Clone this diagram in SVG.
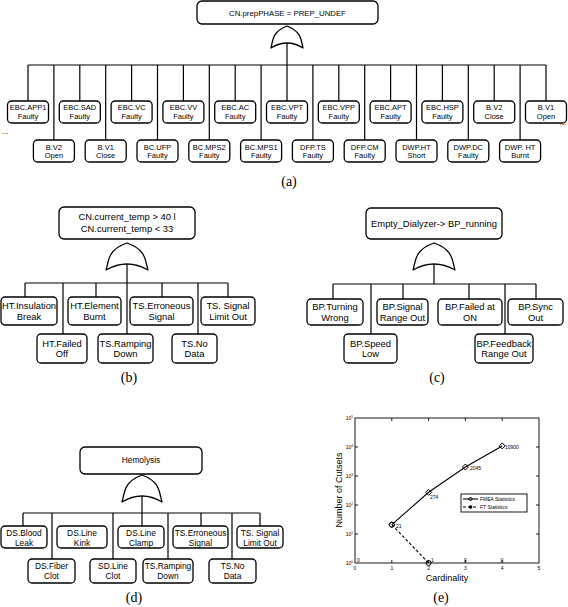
<svg xmlns="http://www.w3.org/2000/svg" width="568" height="607" viewBox="0 0 568 607">
<defs>
<style>
.n{fill:#fff;stroke:#000;stroke-width:1.3}
.g{fill:#fff;stroke:#000;stroke-width:1.3;stroke-linejoin:round}
.c{fill:none;stroke:#000;stroke-width:1.2}
.t{font-family:"Liberation Sans",Arial,sans-serif;text-anchor:middle;fill:#000}
.a{font-size:7.5px}
.b{font-size:9.4px}
.d{font-size:8.4px}
.cap{font-family:"Liberation Serif","Times New Roman",serif;font-size:14px;text-anchor:middle;fill:#000}
.tl{font-family:"Liberation Sans",Arial,sans-serif;font-size:5px;fill:#000}
.ax{fill:none;stroke:#000;stroke-width:0.9}
</style>
</defs>
<rect width="568" height="607" fill="#fff"/>

<!-- ===== (a) ===== -->
<g id="connectors-a">
<path class="c" d="M287,43 V65 M28,65 H546
M28,65 V101 M53.9,65 V140 M79.8,65 V101 M105.7,65 V140 M131.6,65 V101 M157.5,65 V140 M183.4,65 V101 M209.3,65 V140 M235.2,65 V101 M261.1,65 V140 M287,65 V101 M312.9,65 V140 M338.8,65 V101 M364.7,65 V140 M390.6,65 V101 M416.5,65 V140 M442.4,65 V101 M468.3,65 V140 M494.2,65 V101 M520.1,65 V140 M546,65 V101"/>
</g>
<g id="a-top"><rect class="n" x="197" y="1" width="181" height="23" rx="5"/><text class="t" x="287.5" y="15.5" font-size="7.8">CN.prepPHASE = PREP_UNDEF</text></g>
<g id="a-gate"><path class="g" d="M271,48 Q287,38 303,48 C301,40 302,32 287,26 C272,32 273,40 271,48 Z"/></g>
<g id="a0"><rect class="n" x="7.5" y="101" width="41" height="22" rx="4"/><text class="t a" x="28" y="110">EBC.APP1</text><text class="t a" x="28" y="118.5">Faulty</text></g>
<g id="a1"><rect class="n" x="33.4" y="140" width="41" height="22" rx="4"/><text class="t a" x="53.9" y="149.5">B.V2</text><text class="t a" x="53.9" y="158">Open</text></g>
<g id="a2"><rect class="n" x="59.3" y="101" width="41" height="22" rx="4"/><text class="t a" x="79.8" y="110">EBC.SAD</text><text class="t a" x="79.8" y="118.5">Faulty</text></g>
<g id="a3"><rect class="n" x="85.2" y="140" width="41" height="22" rx="4"/><text class="t a" x="105.7" y="149.5">B.V1</text><text class="t a" x="105.7" y="158">Close</text></g>
<g id="a4"><rect class="n" x="111.1" y="101" width="41" height="22" rx="4"/><text class="t a" x="131.6" y="110">EBC.VC</text><text class="t a" x="131.6" y="118.5">Faulty</text></g>
<g id="a5"><rect class="n" x="137" y="140" width="41" height="22" rx="4"/><text class="t a" x="157.5" y="149.5">BC.UFP</text><text class="t a" x="157.5" y="158">Faulty</text></g>
<g id="a6"><rect class="n" x="162.9" y="101" width="41" height="22" rx="4"/><text class="t a" x="183.4" y="110">EBC.VV</text><text class="t a" x="183.4" y="118.5">Faulty</text></g>
<g id="a7"><rect class="n" x="188.8" y="140" width="41" height="22" rx="4"/><text class="t a" x="209.3" y="149.5">BC.MPS2</text><text class="t a" x="209.3" y="158">Faulty</text></g>
<g id="a8"><rect class="n" x="214.7" y="101" width="41" height="22" rx="4"/><text class="t a" x="235.2" y="110">EBC.AC</text><text class="t a" x="235.2" y="118.5">Faulty</text></g>
<g id="a9"><rect class="n" x="240.6" y="140" width="41" height="22" rx="4"/><text class="t a" x="261.1" y="149.5">BC.MPS1</text><text class="t a" x="261.1" y="158">Faulty</text></g>
<g id="a10"><rect class="n" x="266.5" y="101" width="41" height="22" rx="4"/><text class="t a" x="287" y="110">EBC.VPT</text><text class="t a" x="287" y="118.5">Faulty</text></g>
<g id="a11"><rect class="n" x="292.4" y="140" width="41" height="22" rx="4"/><text class="t a" x="312.9" y="149.5">DFP.TS</text><text class="t a" x="312.9" y="158">Faulty</text></g>
<g id="a12"><rect class="n" x="318.3" y="101" width="41" height="22" rx="4"/><text class="t a" x="338.8" y="110">EBC.VPP</text><text class="t a" x="338.8" y="118.5">Faulty</text></g>
<g id="a13"><rect class="n" x="344.2" y="140" width="41" height="22" rx="4"/><text class="t a" x="364.7" y="149.5">DFP.CM</text><text class="t a" x="364.7" y="158">Faulty</text></g>
<g id="a14"><rect class="n" x="370.1" y="101" width="41" height="22" rx="4"/><text class="t a" x="390.6" y="110">EBC.APT</text><text class="t a" x="390.6" y="118.5">Faulty</text></g>
<g id="a15"><rect class="n" x="396" y="140" width="41" height="22" rx="4"/><text class="t a" x="416.5" y="149.5">DWP.HT</text><text class="t a" x="416.5" y="158">Short</text></g>
<g id="a16"><rect class="n" x="421.9" y="101" width="41" height="22" rx="4"/><text class="t a" x="442.4" y="110">EBC.HSP</text><text class="t a" x="442.4" y="118.5">Faulty</text></g>
<g id="a17"><rect class="n" x="447.8" y="140" width="41" height="22" rx="4"/><text class="t a" x="468.3" y="149.5">DWP.DC</text><text class="t a" x="468.3" y="158">Faulty</text></g>
<g id="a18"><rect class="n" x="473.7" y="101" width="41" height="22" rx="4"/><text class="t a" x="494.2" y="110">B.V2</text><text class="t a" x="494.2" y="118.5">Close</text></g>
<g id="a19"><rect class="n" x="499.6" y="140" width="41" height="22" rx="4"/><text class="t a" x="520.1" y="149.5">DWP. HT</text><text class="t a" x="520.1" y="158">Burnt</text></g>
<g id="a20"><rect class="n" x="525.5" y="101" width="41" height="22" rx="4"/><text class="t a" x="546" y="110">B.V1</text><text class="t a" x="546" y="118.5">Open</text></g>
<text class="t" x="5" y="134" font-size="8">...</text>
<text class="t" x="563" y="125" font-size="8">...</text>
<text class="cap" x="289" y="186">(a)</text>

<!-- ===== (b) ===== -->
<g id="connectors-b">
<path class="c" d="M127,264 V334 M25,283 H228 M25,283 V297 M63,283 V334 M96,283 V297 M162,283 V297 M198,283 V334 M228,283 V297"/>
</g>
<g id="b-top"><rect class="n" x="59" y="207" width="136" height="32" rx="5"/><text class="t b" x="127" y="220">CN.current_temp &gt; 40 l</text><text class="t b" x="127" y="231.5">CN.current_temp &lt; 33</text></g>
<g id="b-gate"><path class="g" d="M106,270 Q127,258 148,270 C145,261 147,250 127,243 C107,250 109,261 106,270 Z"/></g>
<g id="b1"><rect class="n" x="1" y="297" width="56" height="28" rx="4"/><text class="t b" x="29" y="308.5">HT.Insulation</text><text class="t b" x="29" y="319.5">Break</text></g>
<g id="b2"><rect class="n" x="68" y="297" width="53" height="28" rx="4"/><text class="t b" x="94.5" y="308.5">HT.Element</text><text class="t b" x="94.5" y="319.5">Burnt</text></g>
<g id="b3"><rect class="n" x="130" y="297" width="63" height="28" rx="4"/><text class="t b" x="161.5" y="308.5">TS.Erroneous</text><text class="t b" x="161.5" y="319.5">Signal</text></g>
<g id="b4"><rect class="n" x="201" y="297" width="54" height="28" rx="4"/><text class="t b" x="228" y="308.5">TS. Signal</text><text class="t b" x="228" y="319.5">Limit Out</text></g>
<g id="b5"><rect class="n" x="37" y="334" width="50" height="29" rx="4"/><text class="t b" x="62" y="346.5">HT.Failed</text><text class="t b" x="62" y="357">Off</text></g>
<g id="b6"><rect class="n" x="98" y="334" width="55" height="29" rx="4"/><text class="t b" x="125.5" y="346.5">TS.Ramping</text><text class="t b" x="125.5" y="357">Down</text></g>
<g id="b7"><rect class="n" x="172" y="334" width="45" height="29" rx="4"/><text class="t b" x="194.5" y="346.5">TS.No</text><text class="t b" x="194.5" y="357">Data</text></g>
<text class="cap" x="129" y="382">(b)</text>

<!-- ===== (c) ===== -->
<g id="connectors-c">
<path class="c" d="M434,264 V284 M333,284 H536 M333,284 V299 M371,284 V334 M403,284 V299 M469,284 V299 M505,284 V334 M536,284 V299"/>
</g>
<g id="c-top"><rect class="n" x="366" y="208" width="136" height="31" rx="5"/><text class="t b" x="434" y="227">Empty_Dialyzer-&gt; BP_running</text></g>
<g id="c-gate"><path class="g" d="M413,270 Q434,258 455,270 C452,261 454,250 434,243 C414,250 416,261 413,270 Z"/></g>
<g id="c1"><rect class="n" x="307" y="299" width="56" height="26" rx="4"/><text class="t b" x="335" y="309.5">BP.Turning</text><text class="t b" x="335" y="320.5">Wrong</text></g>
<g id="c2"><rect class="n" x="377" y="299" width="51" height="26" rx="4"/><text class="t b" x="402.5" y="309.5">BP.Signal</text><text class="t b" x="402.5" y="320.5">Range Out</text></g>
<g id="c3"><rect class="n" x="438" y="299" width="64" height="26" rx="4"/><text class="t b" x="470" y="309.5">BP.Failed at</text><text class="t b" x="470" y="320.5">ON</text></g>
<g id="c4"><rect class="n" x="508" y="299" width="55" height="26" rx="4"/><text class="t b" x="535.5" y="309.5">BP.Sync</text><text class="t b" x="535.5" y="320.5">Out</text></g>
<g id="c5"><rect class="n" x="344" y="334" width="53" height="29" rx="4"/><text class="t b" x="370.5" y="346.5">BP.Speed</text><text class="t b" x="370.5" y="357">Low</text></g>
<g id="c6"><rect class="n" x="475" y="334" width="58" height="29" rx="4"/><text class="t b" x="504" y="346.5">BP.Feedback</text><text class="t b" x="504" y="357">Range Out</text></g>
<text class="cap" x="437" y="382">(c)</text>

<!-- ===== (d) ===== -->
<g id="connectors-d">
<path class="c" d="M142,496 V526 M23,513 H260 M23,513 V526 M52,513 V559 M113,513 V559 M168,513 V559 M201,513 V526 M232,513 V559 M260,513 V526"/>
</g>
<g id="d-top"><rect class="n" x="80" y="447" width="122" height="27" rx="5"/><text class="t d" x="141" y="463">Hemolysis</text></g>
<g id="d-gate"><path class="g" d="M122,502 Q142,490 162,502 C159,493 161,482 142,475 C123,482 125,493 122,502 Z"/></g>
<g id="d1"><rect class="n" x="1" y="526" width="46" height="22" rx="4"/><text class="t d" x="24" y="536">DS.Blood</text><text class="t d" x="24" y="545.5">Leak</text></g>
<g id="d2"><rect class="n" x="57" y="526" width="50" height="22" rx="4"/><text class="t d" x="82" y="536">DS.Line</text><text class="t d" x="82" y="545.5">Kink</text></g>
<g id="d3"><rect class="n" x="118" y="526" width="46" height="22" rx="4"/><text class="t d" x="141" y="536">DS.Line</text><text class="t d" x="141" y="545.5">Clamp</text></g>
<g id="d4"><rect class="n" x="173" y="526" width="55" height="22" rx="4"/><text class="t d" x="200.5" y="536">TS.Erroneous</text><text class="t d" x="200.5" y="545.5">Signal</text></g>
<g id="d5"><rect class="n" x="237" y="526" width="46" height="22" rx="4"/><text class="t d" x="260" y="536">TS. Signal</text><text class="t d" x="260" y="545.5">Limit Out</text></g>
<g id="d6"><rect class="n" x="28" y="559" width="47" height="24" rx="4"/><text class="t d" x="51.5" y="569">DS.Fiber</text><text class="t d" x="51.5" y="579">Clot</text></g>
<g id="d7"><rect class="n" x="90" y="559" width="46" height="24" rx="4"/><text class="t d" x="113" y="569">SD.Line</text><text class="t d" x="113" y="579">Clot</text></g>
<g id="d8"><rect class="n" x="143" y="559" width="50" height="24" rx="4"/><text class="t d" x="168" y="569">TS.Ramping</text><text class="t d" x="168" y="579">Down</text></g>
<g id="d9"><rect class="n" x="209" y="559" width="47" height="24" rx="4"/><text class="t d" x="232.5" y="569">TS.No</text><text class="t d" x="232.5" y="579">Data</text></g>
<text class="cap" x="134" y="602">(d)</text>

<!-- ===== (e) chart ===== -->
<g id="chart">
<rect class="ax" x="355" y="418" width="184" height="145"/>
<path class="ax" d="M391.8,563 v-3 M428.6,563 v-3 M465.4,563 v-3 M502.2,563 v-3 M391.8,418 v3 M428.6,418 v3 M465.4,418 v3 M502.2,418 v3 M355,534 h3 M355,505 h3 M355,476 h3 M355,447 h3 M539,534 h-3 M539,505 h-3 M539,476 h-3 M539,447 h-3"/>
<g class="tl" text-anchor="middle">
<text x="355" y="570">0</text><text x="391.8" y="570">1</text><text x="428.6" y="570">2</text><text x="465.4" y="570">3</text><text x="502.2" y="570">4</text><text x="539" y="570">5</text>
</g>
<g class="tl" text-anchor="end">
<text x="353" y="565">10<tspan font-size="3.2" dy="-2">0</tspan></text>
<text x="353" y="536">10<tspan font-size="3.2" dy="-2">1</tspan></text>
<text x="353" y="507">10<tspan font-size="3.2" dy="-2">2</tspan></text>
<text x="353" y="478">10<tspan font-size="3.2" dy="-2">3</tspan></text>
<text x="353" y="449">10<tspan font-size="3.2" dy="-2">4</tspan></text>
<text x="353" y="420">10<tspan font-size="3.2" dy="-2">5</tspan></text>
</g>
<polyline fill="none" stroke="#000" stroke-width="1.1" points="391.8,524.7 428.6,492.3 465.4,467 502.2,445.9"/>
<line x1="391.8" y1="524.7" x2="428.6" y2="563" stroke="#000" stroke-width="1.1" stroke-dasharray="3,2"/>
<g fill="none" stroke="#000" stroke-width="1">
<path d="M391.8,521.7 l3,3 -3,3 -3,-3 z M428.6,489.3 l3,3 -3,3 -3,-3 z M465.4,464 l3,3 -3,3 -3,-3 z M502.2,442.9 l3,3 -3,3 -3,-3 z"/>
<circle cx="391.8" cy="524.7" r="2.5"/>
<circle cx="428.6" cy="563" r="2.5"/>
</g>
<g class="tl">
<text x="396" y="528">21</text>
<text x="430" y="499">274</text>
<text x="470" y="470">2045</text>
<text x="505" y="449">10900</text>
<text x="431" y="562">1</text>
<text x="464" y="562">0</text>
<text x="500.5" y="562">0</text>
<text x="357" y="562">0</text>
</g>
<g id="legend">
<rect x="461" y="494" width="66" height="18" fill="#fff" stroke="#000" stroke-width="0.9"/>
<line x1="463" y1="499" x2="478" y2="499" stroke="#000" stroke-width="1.1"/>
<path d="M470.5,497 l2,2 -2,2 -2,-2 z" fill="none" stroke="#000" stroke-width="1"/>
<text class="tl" x="480" y="501" font-size="4.6">FMEA Statistics</text>
<line x1="463" y1="507" x2="478" y2="507" stroke="#000" stroke-width="1.1" stroke-dasharray="3,2"/>
<circle cx="470.5" cy="507" r="1.8" fill="#000"/>
<text class="tl" x="480" y="509" font-size="4.6">FT Statistics</text>
</g>
<text class="t" x="447" y="581" font-size="9">Cardinality</text>
<text class="t" x="342" y="490" font-size="9" transform="rotate(-90 342 490)">Number of Cutsets</text>
</g>
<text class="cap" x="441" y="602">(e)</text>
</svg>
